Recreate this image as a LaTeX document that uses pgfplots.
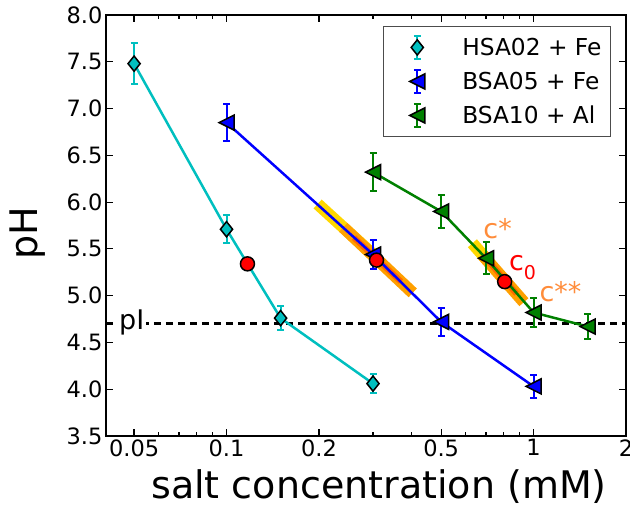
\documentclass[border=0pt]{standalone}
\usepackage{fontspec}
\setmainfont{DejaVu Sans}
\usepackage{pgfplots}
\pgfplotsset{compat=1.18}
\usetikzlibrary{calc}

\definecolor{mcyan}{rgb}{0,0.75,0.75}
\definecolor{mblue}{rgb}{0,0,1}
\definecolor{mgreen}{rgb}{0,0.5,0}
\definecolor{bandyel}{HTML}{FFD700}
\definecolor{bandora}{HTML}{FFA000}
\definecolor{banddark}{HTML}{FF6A00}
\definecolor{corange}{HTML}{FF8C3A}

\newcommand{\tickfont}{\fontsize{22.5}{26}\selectfont}
\newcommand{\legfont}{\fontsize{23.3}{27}\selectfont}
\newcommand{\labfont}{\fontsize{38}{44}\selectfont}
\newcommand{\annfont}{\fontsize{27}{30}\selectfont}

% matplotlib-like markers
\pgfdeclareplotmark{thindiamond*}{%
  \pgfpathmoveto{\pgfqpoint{0pt}{\pgfplotmarksize}}%
  \pgfpathlineto{\pgfqpoint{.8\pgfplotmarksize}{0pt}}%
  \pgfpathlineto{\pgfqpoint{0pt}{-\pgfplotmarksize}}%
  \pgfpathlineto{\pgfqpoint{-.8\pgfplotmarksize}{0pt}}%
  \pgfpathclose
  \pgfusepathqfillstroke
}
\pgfdeclareplotmark{trileft*}{%
  \pgfpathmoveto{\pgfqpoint{-\pgfplotmarksize}{0pt}}%
  \pgfpathlineto{\pgfqpoint{\pgfplotmarksize}{-\pgfplotmarksize}}%
  \pgfpathlineto{\pgfqpoint{\pgfplotmarksize}{\pgfplotmarksize}}%
  \pgfpathclose
  \pgfusepathqfillstroke
}

\pgfplotstableread{
x    y    e
0.05 7.48 0.22
0.1  5.71 0.15
0.15 4.76 0.13
0.3  4.06 0.10
}\hsa
\pgfplotstableread{
x    y    e
0.1  6.85 0.20
0.3  5.44 0.16
0.5  4.72 0.15
1.0  4.03 0.12
}\bsafe
\pgfplotstableread{
x    y    e
0.3  6.32 0.20
0.5  5.90 0.18
0.7  5.40 0.17
1.0  4.82 0.15
1.5  4.67 0.13
}\bsaal

\begin{document}
\begin{tikzpicture}
\begin{axis}[
  name=ax,
  scale only axis,
  width=520pt, height=421pt,
  xmode=log,
  xmin=0.0405, xmax=2,
  ymin=3.5, ymax=8,
  xtick={0.05,0.1,0.2,0.5,1,2},
  xticklabels={0.05,0.1,0.2,0.5,1,2},
  minor xtick={0.04,0.06,0.07,0.08,0.09,0.3,0.4,0.6,0.7,0.8,0.9},
  ytick={3.5,4.0,...,8.0},
  yticklabel style={/pgf/number format/.cd,fixed,fixed zerofill,precision=1},
  /pgf/number format/assume math mode=true,
  ticklabel style={font=\tickfont},
  tick align=inside,
  major tick length=7pt,
  minor tick length=4pt,
  every tick/.style={black, line width=1.2pt},
  axis line style={line width=2.5pt},
  xlabel={salt concentration (mM)},
  ylabel={pH},
  xlabel style={font=\labfont, at={(axis description cs:0.525,-0.1496)}, anchor=base},
  ylabel style={font=\labfont, at={(axis description cs:-0.150,0.482)}, anchor=center},
  legend style={at={(rel axis cs:0.971,0.974)}, anchor=north east,
    draw=black!70, line width=1pt, font=\legfont,
    inner xsep=9pt, inner ysep=8pt, row sep=8pt, column sep=28pt,
    nodes={inner sep=0pt, text height=16pt, text depth=0pt}},
  legend cell align=left,
]
% highlight bands
\addplot[bandyel, line width=12pt, forget plot] coordinates {(0.198,5.98) (0.30,5.44)};
\addplot[bandora, line width=12pt, forget plot] coordinates {(0.24,5.73) (0.404,5.03)};
\addplot[banddark, line width=6pt, forget plot] coordinates {(0.26,5.62) (0.37,5.15)};
\addplot[bandyel, line width=12pt, forget plot] coordinates {(0.632,5.56) (0.72,5.35)};
\addplot[bandora, line width=12pt, forget plot] coordinates {(0.68,5.44) (0.93,4.93)};
\addplot[banddark, line width=6pt, forget plot] coordinates {(0.70,5.40) (0.88,5.02)};

% pI line
\addplot[black, line width=2.5pt, dash pattern=on 7pt off 5pt, forget plot] coordinates {(0.0405,4.7) (2,4.7)};

% connecting lines
\addplot[mcyan, line width=2.5pt, forget plot] table[x=x,y=y] {\hsa};
\addplot[mblue, line width=2.5pt, forget plot] table[x=x,y=y] {\bsafe};
\addplot[mgreen, line width=2.5pt, forget plot] table[x=x,y=y] {\bsaal};

% markers with error bars
\addplot[only marks, mark=thindiamond*, mark size=7.6pt,
  mark options={fill=mcyan, draw=black, line width=1.5pt}, forget plot,
  error bars/.cd, y dir=both, y explicit,
  error bar style={mcyan, line width=2pt},
  error mark options={rotate=90, mcyan, mark size=3.5pt, line width=2pt}]
  table[x=x,y=y,y error=e] {\hsa};
\addplot[only marks, mark=trileft*, mark size=7.5pt,
  mark options={fill=mblue, draw=black, line width=1.5pt}, forget plot,
  error bars/.cd, y dir=both, y explicit,
  error bar style={mblue, line width=2pt},
  error mark options={rotate=90, mblue, mark size=3.5pt, line width=2pt}]
  table[x=x,y=y,y error=e] {\bsafe};
\addplot[only marks, mark=trileft*, mark size=7.5pt,
  mark options={fill=mgreen, draw=black, line width=1.5pt}, forget plot,
  error bars/.cd, y dir=both, y explicit,
  error bar style={mgreen, line width=2pt},
  error mark options={rotate=90, mgreen, mark size=3.5pt, line width=2pt}]
  table[x=x,y=y,y error=e] {\bsaal};

% c0 points
\addplot[only marks, mark=*, mark size=7pt,
  mark options={fill=red, draw=black, line width=1.5pt}, forget plot]
  coordinates {(0.117,5.34) (0.308,5.38) (0.805,5.15)};

% legend
\addlegendimage{legend image code/.code={
  \path[draw=none, fill=none] (-25pt,-13pt) rectangle (17pt,13pt);
  \draw[mcyan, line width=2pt] (0pt,-11.5pt) -- (0pt,11.5pt)
    (-3.5pt,-11.5pt) -- (3.5pt,-11.5pt) (-3.5pt,11.5pt) -- (3.5pt,11.5pt);
  \path plot[only marks, mark=thindiamond*, mark size=7.6pt,
    mark options={fill=mcyan, draw=black, line width=1.5pt}] coordinates {(0pt,0pt)};
}}
\addlegendentry{HSA02 + Fe}
\addlegendimage{legend image code/.code={
  \path[draw=none, fill=none] (-25pt,-13pt) rectangle (17pt,13pt);
  \draw[mblue, line width=2pt] (0pt,-11.5pt) -- (0pt,11.5pt)
    (-3.5pt,-11.5pt) -- (3.5pt,-11.5pt) (-3.5pt,11.5pt) -- (3.5pt,11.5pt);
  \path plot[only marks, mark=trileft*, mark size=7.5pt,
    mark options={fill=mblue, draw=black, line width=1.5pt}] coordinates {(0pt,0pt)};
}}
\addlegendentry{BSA05 + Fe}
\addlegendimage{legend image code/.code={
  \path[draw=none, fill=none] (-25pt,-13pt) rectangle (17pt,13pt);
  \draw[mgreen, line width=2pt] (0pt,-11.5pt) -- (0pt,11.5pt)
    (-3.5pt,-11.5pt) -- (3.5pt,-11.5pt) (-3.5pt,11.5pt) -- (3.5pt,11.5pt);
  \path plot[only marks, mark=trileft*, mark size=7.5pt,
    mark options={fill=mgreen, draw=black, line width=1.5pt}] coordinates {(0pt,0pt)};
}}
\addlegendentry{BSA10 + Al}

% annotations
\node[fill=white, inner sep=2pt, font=\annfont] at (axis cs:0.0491,4.71) {pI};
\node[corange, font=\annfont] at (axis cs:0.764,5.72) {c*};
\node[red, font=\annfont] at (axis cs:0.921,5.30) {c\raisebox{-0.3em}{\fontsize{19}{20}\selectfont 0}};
\node[corange, font=\annfont] at (axis cs:1.224,5.04) {c**};
\end{axis}
\pgfresetboundingbox
\path[use as bounding box] ($(ax.south west)+(-106pt,-72pt)$) rectangle ($(ax.south west)+(524pt,436pt)$);
\end{tikzpicture}
\end{document}
